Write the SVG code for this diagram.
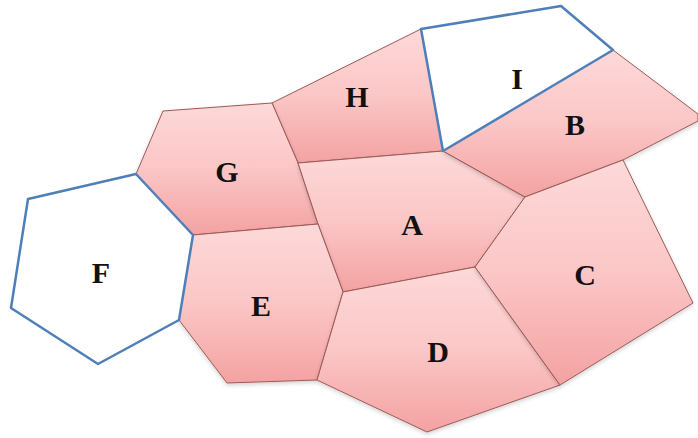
<svg xmlns="http://www.w3.org/2000/svg" width="698" height="438" viewBox="0 0 698 438">
<defs>
<linearGradient id="pk" x1="0" y1="0" x2="0" y2="1">
<stop offset="0" stop-color="#fdd9d9"/>
<stop offset="0.5" stop-color="#fbc6c6"/>
<stop offset="1" stop-color="#f4a2a2"/>
</linearGradient>
<filter id="sh" x="-10%" y="-10%" width="120%" height="125%">
<feGaussianBlur in="SourceAlpha" stdDeviation="2"/>
<feOffset dx="0" dy="2"/>
<feComponentTransfer><feFuncA type="linear" slope="0.18"/></feComponentTransfer>
<feMerge><feMergeNode/><feMergeNode in="SourceGraphic"/></feMerge>
</filter>
</defs>
<style>
.p{fill:url(#pk);stroke:#9c5a55;stroke-width:1;stroke-linejoin:round}
.w{fill:#ffffff;stroke:#4f7fb8;stroke-width:2.5;stroke-linejoin:round}
text{font-family:"Liberation Serif","Times New Roman",serif;font-weight:bold;font-size:30px;fill:#111;text-anchor:middle}
</style>
<g id="H"><polygon class="p" filter="url(#sh)" points="272,103 421,29 443,151 298,163"/><text x="357" y="107">H</text></g>
<g id="G"><polygon class="p" filter="url(#sh)" points="163,111 272,103 298,163 318,224 193,235 136,174"/><text x="227" y="182">G</text></g>
<g id="A"><polygon class="p" filter="url(#sh)" points="298,163 443,151 525,197 475,267 343,292 318,224"/><text x="412" y="235">A</text></g>
<g id="B"><polygon class="p" filter="url(#sh)" points="443,151 613,50 698,114 698,121 623,160 525,197"/><text x="575" y="135">B</text></g>
<g id="E"><polygon class="p" filter="url(#sh)" points="193,235 318,224 343,292 317,380 227,383 179,320"/><text x="261" y="316">E</text></g>
<g id="D"><polygon class="p" filter="url(#sh)" points="343,292 475,267 560,385 427,432 317,380"/><text x="438" y="362">D</text></g>
<g id="C"><polygon class="p" filter="url(#sh)" points="475,267 525,197 623,160 693,303 560,385"/><text x="585" y="285">C</text></g>
<g id="F"><polygon class="w" points="28,199 136,174 193,235 179,320 98,364 11,308"/><text x="101" y="283">F</text></g>
<g id="I"><polygon class="w" points="421,29 561,6 613,50 443,151"/><text x="517" y="89">I</text></g>
<g id="connectors"></g>
</svg>
